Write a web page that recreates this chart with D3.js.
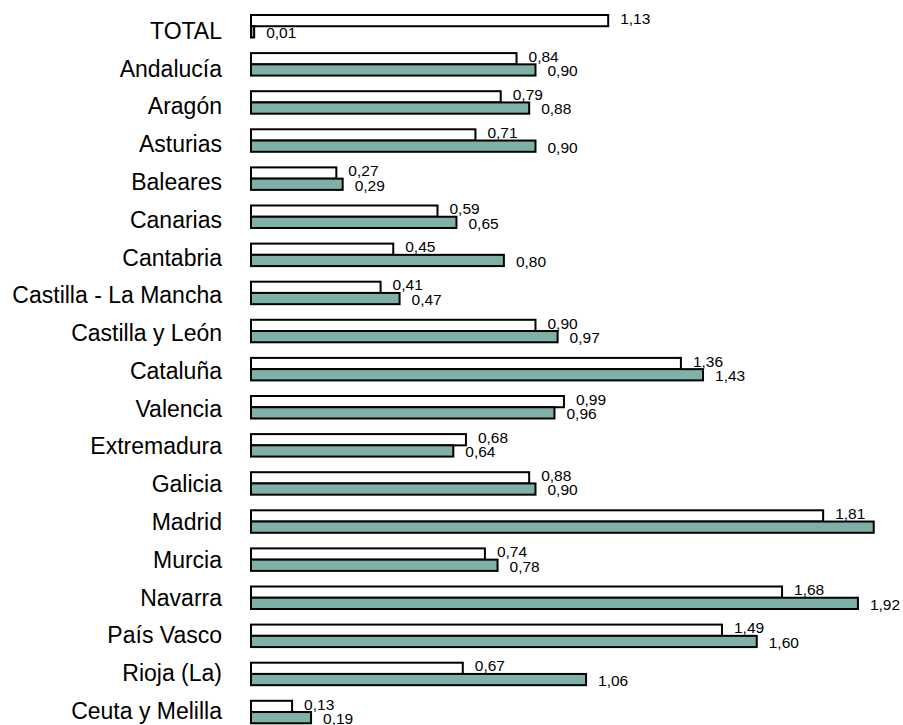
<!DOCTYPE html>
<html>
<head>
<meta charset="utf-8">
<script src="https://cdn.jsdelivr.net/npm/d3@7/dist/d3.min.js"></script>
<style>
  html, body { margin: 0; padding: 0; background: #fff; }
  svg { display: block; font-family: "Liberation Sans", Arial, sans-serif; }
</style>
</head>
<body>
<svg id="chart" width="903" height="725"></svg>
<script>
const categories = ["TOTAL", "Andalucía", "Aragón", "Asturias", "Baleares", "Canarias", "Cantabria",
  "Castilla - La Mancha", "Castilla y León", "Cataluña", "Valencia", "Extremadura", "Galicia",
  "Madrid", "Murcia", "Navarra", "País Vasco", "Rioja (La)", "Ceuta y Melilla"];
const seriesNames = ["serie1", "serie2"];
const serie1 = [1.13, 0.84, 0.79, 0.71, 0.27, 0.59, 0.45, 0.41, 0.90, 1.36, 0.99, 0.68, 0.88, 1.81, 0.74, 1.68, 1.49, 0.67, 0.13];
const serie2 = [0.01, 0.90, 0.88, 0.90, 0.29, 0.65, 0.80, 0.47, 0.97, 1.43, 0.96, 0.64, 0.90, 1.97, 0.78, 1.92, 1.60, 1.06, 0.19];

const W = 903, H = 725;
const x0 = 251, pxPerUnit = 316.1;
const step = 38.1, firstTop = 15, pIn = 0.41, pOut = 0.3;
const n = categories.length;
const rangeLen = step * (n - pIn + 2 * pOut);
const r0 = firstTop - step * pOut;

const svg = d3.select("#chart");
const x = d3.scaleLinear().domain([0, 2]).range([x0, x0 + 2 * pxPerUnit]);
const y = d3.scaleBand().domain(categories).range([r0, r0 + rangeLen]).paddingInner(pIn).paddingOuter(pOut);
const yLab = d3.scalePoint().domain(categories).range([31, 711]);
const ySub = d3.scaleBand().domain(seriesNames).range([0, y.bandwidth()]);
const colors = { serie1: "#ffffff", serie2: "#80b1a9" };
const locale = d3.formatLocale({ decimal: ",", thousands: ".", grouping: [3], currency: ["", "€"] });
const fmt = locale.format(".2f");

const rows = categories.map((c, i) => ({ cat: c, vals: [
  { s: "serie1", v: serie1[i] }, { s: "serie2", v: serie2[i] }] }));

// category axis
const axis = d3.axisLeft(yLab).tickSize(0).tickPadding(29);
const gAxis = svg.append("g").attr("transform", `translate(${x0},0)`).call(axis);
gAxis.select(".domain").remove();
gAxis.selectAll("text").attr("font-size", 23).attr("fill", "#000")
  .attr("font-family", "'Liberation Sans', Arial, sans-serif");

const groups = svg.append("g").selectAll("g").data(rows).join("g")
  .attr("transform", d => `translate(0,${y(d.cat)})`);

groups.selectAll("rect").data(d => d.vals).join("rect")
  .attr("x", x(0))
  .attr("y", d => ySub(d.s))
  .attr("width", d => x(d.v) - x(0))
  .attr("height", ySub.bandwidth())
  .attr("fill", d => colors[d.s])
  .attr("stroke", "#000")
  .attr("stroke-width", 2);

const labOffset = { serie1: -2.5, serie2: 0.8 };
groups.selectAll("text.val").data(d => d.vals).join("text")
  .attr("class", "val")
  .attr("x", d => x(d.v) + 12)
  .attr("y", d => ySub(d.s) + ySub.bandwidth() / 2 + labOffset[d.s])
  .attr("dy", "0.36em")
  .attr("font-size", 15.5)
  .attr("fill", "#000")
  .text(d => fmt(d.v))
  .each(function() {
    const t = d3.select(this);
    if (+t.attr("x") + this.getComputedTextLength() > W) t.remove();
  });
</script>
</body>
</html>
